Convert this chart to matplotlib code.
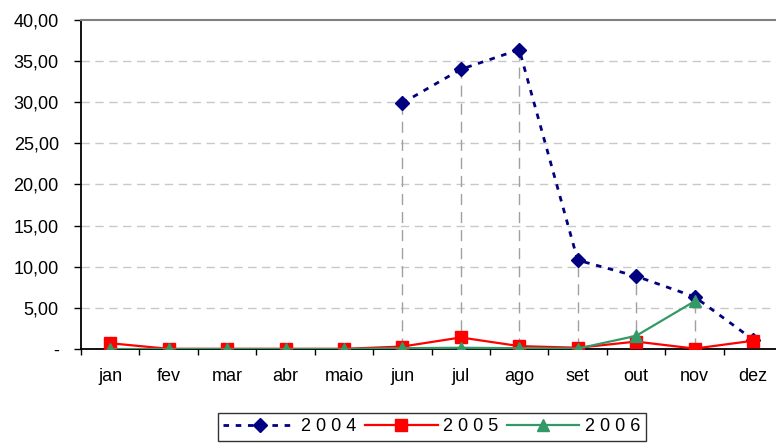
import numpy as np
import matplotlib
matplotlib.use("Agg")
import matplotlib.pyplot as plt
from matplotlib.ticker import FixedLocator, FuncFormatter

months = ["jan", "fev", "mar", "abr", "maio", "jun", "jul", "ago", "set", "out", "nov", "dez"]
s2004 = [np.nan, np.nan, np.nan, np.nan, np.nan, 29.9, 34.0, 36.4, 10.8, 8.85, 6.35, 1.15]
s2005 = [0.7, 0.02, 0.02, 0.02, 0.02, 0.3, 1.4, 0.35, 0.15, 0.9, 0.05, 1.0]
s2006 = [0.0, 0.0, 0.0, 0.0, 0.0, 0.1, 0.15, 0.1, 0.05, 1.6, 5.8, np.nan]
labels = ["2 0 0 4", "2 0 0 5", "2 0 0 6"]
yticks = [0, 5, 10, 15, 20, 25, 30, 35, 40]

plt.rcParams['font.family'] = ['Liberation Sans', 'DejaVu Sans']

fig = plt.figure(figsize=(7.76, 4.43), dpi=100)
ax = fig.add_axes([0.1044, 0.2122, 0.9036, 0.7427])

x = np.arange(len(months))

# drop lines (from the highest point of each category down to the axis)
tops = np.nanmax(np.vstack([s2004, s2005, s2006]), axis=0)
has2004 = ~np.isnan(np.array(s2004))
ax.vlines(x[has2004], 0, tops[has2004], colors="#a0a0a0", linewidth=1.0,
          linestyles=(0, (8, 5)), zorder=1)

ax.plot(x, s2004, color="#000080", linestyle=(0, (2, 2.4)), linewidth=2.0,
        marker="D", markersize=7, label=labels[0], zorder=3)
ax.plot(x, s2005, color="#ff0000", linestyle="-", linewidth=1.6,
        marker="s", markersize=8, label=labels[1], zorder=4)
ax.plot(x, s2006, color="#339966", linestyle="-", linewidth=1.6,
        marker="^", markersize=9, label=labels[2], zorder=5)

ax.set_xlim(-0.5, 11.5)
ax.set_ylim(0, 40)

ax.yaxis.set_major_locator(FixedLocator(yticks))
ax.yaxis.set_major_formatter(FuncFormatter(lambda v, p: "-" if v == 0 else f"{v:.2f}".replace(".", ",")))
for yv in yticks[1:-1]:
    ax.axhline(yv, color="#c8c8c8", linewidth=1.0, linestyle=(0, (6, 4)), zorder=0)

ax.set_xticks(np.arange(-0.5, 12, 1.0))
ax.set_xticklabels([])
ax.set_xticks(x, minor=True)
ax.set_xticklabels(months, minor=True)
ax.tick_params(axis="x", which="major", direction="out", length=4.5, width=1, color="black")
ax.tick_params(axis="x", which="minor", length=0, pad=14, labelsize=13)
ax.tick_params(axis="y", direction="out", length=5, width=1, labelsize=13, pad=11)

ax.spines["top"].set_color("#808080")
ax.spines["top"].set_linewidth(1.5)
ax.spines["right"].set_visible(False)
ax.spines["left"].set_color("black")
ax.spines["left"].set_linewidth(1.3)
ax.spines["bottom"].set_color("black")
ax.spines["bottom"].set_linewidth(1.3)

leg = fig.legend(loc="upper center", bbox_to_anchor=(0.5565, 0.0677), ncol=3,
                 frameon=True, fancybox=False, edgecolor="black", fontsize=13,
                 handlelength=4.0, handletextpad=0.3, columnspacing=0.5,
                 borderpad=0.3, borderaxespad=0)
leg.get_frame().set_linewidth(1.0)

fig.savefig("out.png", dpi=100)
